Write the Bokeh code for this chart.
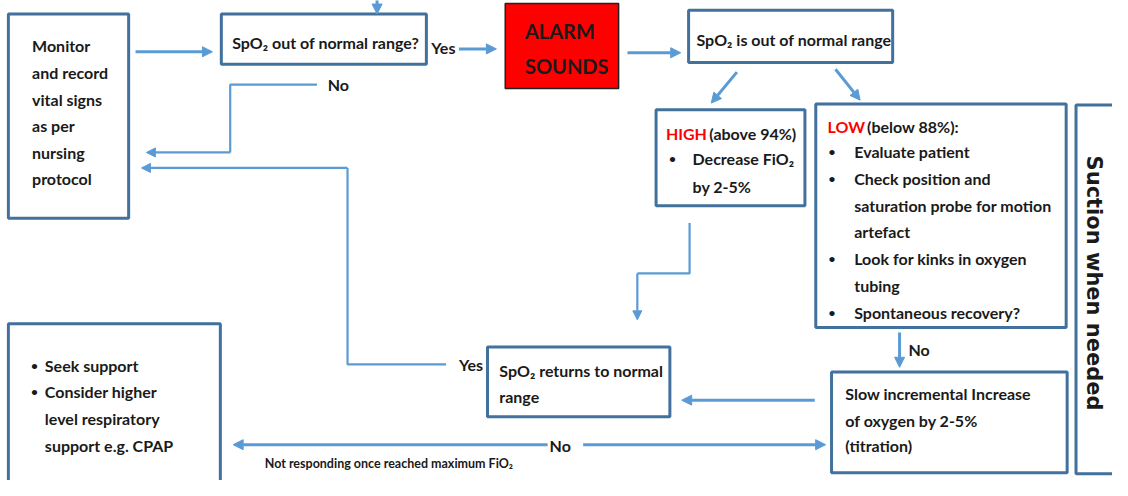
import math
from bokeh.plotting import figure
from bokeh.models import Range1d, Arrow, NormalHead, ColumnDataSource
from bokeh.core.properties import value
from bokeh.embed import file_html
from bokeh.resources import INLINE

FONT = "Lato"
BOX_COLOR = "#41719C"
ARROW_COLOR = "#5B9BD5"
TEXT_COLOR = "#1a1a1a"

# ---- boxes: (left, top, right, bottom) in picture coordinates
box_names = ["monitor", "question", "alarm", "outofrange", "high", "low", "suction", "returns", "slow", "support"]
box_left = [8, 224, 512, 698, 665, 827, 1091, 494, 843, 8]
box_top = [14, 14, 3, 10, 113, 107, 108, 358, 384, 334]
box_right = [130, 432, 627, 905, 816, 1081, 1150, 679, 1082, 223]
box_bottom = [225, 66, 91, 64, 212, 338, 489, 430, 488, 510]
box_fill = ["white", "white", "#FF0000", "white", "white", "white", "white", "white", "white", "white"]
box_line = [BOX_COLOR, BOX_COLOR, "#222222", BOX_COLOR, BOX_COLOR, BOX_COLOR, BOX_COLOR, BOX_COLOR, BOX_COLOR, BOX_COLOR]
box_lw = [3, 3, 1.5, 3, 3, 3, 3, 3, 3, 3]

# ---- text lines (bold, dark)
text_lines = [
    "Monitor", "and record", "vital signs", "as per", "nursing", "protocol",
    "SpO\u2082 out of normal range?", "Yes", "No",
    "SpO\u2082 is out of normal range",
    "(above 94%)", "Decrease FiO\u2082", "by 2-5%",
    "(below 88%):",
    "Evaluate patient", "Check position and", "saturation probe for motion", "artefact",
    "Look for kinks in oxygen", "tubing", "Spontaneous recovery?",
    "No",
    "Yes", "SpO\u2082 returns to normal", "range",
    "Slow incremental Increase", "of oxygen by 2-5%", "(titration)",
    "No",
    "Seek support", "Consider higher", "level respiratory", "support e.g. CPAP",
]
text_x = [
    32, 32, 32, 32, 32, 32,
    235, 437, 332,
    706,
    719, 702, 702,
    879,
    866, 866, 866, 866,
    866, 866, 866,
    921,
    465, 506, 506,
    857, 857, 857,
    557,
    45, 45, 45, 45,
]
text_y = [
    46, 74, 102, 129, 157, 184,
    43, 49, 87,
    40,
    137, 163, 192,
    130,
    156, 184, 212, 239,
    267, 295, 322,
    361,
    376, 382, 409,
    406, 434, 460,
    460,
    377, 404, 432, 460,
]

# ---- bullets
bullet_x = [678, 840, 840, 840, 840, 31, 31]
bullet_y = [163, 156, 184, 267, 322, 377, 404]

# ---- red words
red_words = ["HIGH", "LOW"]
red_x = [675, 839]
red_y = [137, 130]

# ---- ALARM
alarm_words = ["ALARM", "SOUNDS"]
alarm_x = [532, 532]
alarm_y = [32, 68]

# ---- small note
note_text = ["Not responding once reached maximum FiO\u2082"]
note_x = [268]
note_y = [478]

# ---- vertical label
side_text = ["Suction when needed"]
side_x = [1109]
side_y = [292]

# ---- straight arrows (start -> end)
arr_x0 = [382, 137, 465, 636, 747, 847, 912, 826, 555, 591]
arr_y0 = [-5, 53, 50, 54, 74, 71, 343, 413, 459, 459]
arr_x1 = [382, 215, 503, 690, 721, 872, 912, 691, 236, 837]
arr_y1 = [14, 53, 50, 54, 106, 103, 379, 413, 459, 459]

# ---- elbow connectors: polyline points, arrow on last segment
elbow_xs = [[321, 233, 233, 148], [452, 352, 352, 143], [699, 699, 646, 646]]
elbow_ys = [[87, 87, 157, 157], [376, 376, 173, 173], [230, 282, 282, 330]]

p = figure(width=1112, height=480, x_range=Range1d(0, 1128), y_range=Range1d(496, 0),
           output_backend="svg", toolbar_location=None, min_border=0,
           x_axis_location=None, y_axis_location=None)
p.grid.visible = False
p.outline_line_color = None
p.background_fill_color = "white"

p.quad(left=box_left, right=box_right, top=box_top, bottom=box_bottom,
       fill_color=box_fill, line_color=box_line, line_width=box_lw)

# elbow lines (all but the last segment) + arrow for last segment
p.multi_line(xs=[xs[:-1] for xs in elbow_xs], ys=[ys[:-1] for ys in elbow_ys],
             line_color=ARROW_COLOR, line_width=2.2)
el_src = ColumnDataSource(dict(x0=[xs[-2] for xs in elbow_xs], y0=[ys[-2] for ys in elbow_ys],
                               x1=[xs[-1] for xs in elbow_xs], y1=[ys[-1] for ys in elbow_ys]))
p.add_layout(Arrow(end=NormalHead(size=9, fill_color=ARROW_COLOR, line_color=ARROW_COLOR, line_width=1),
                   x_start="x0", y_start="y0", x_end="x1", y_end="y1", source=el_src,
                   line_color=ARROW_COLOR, line_width=2.2))

arr_src = ColumnDataSource(dict(x0=arr_x0, y0=arr_y0, x1=arr_x1, y1=arr_y1))
p.add_layout(Arrow(end=NormalHead(size=10, fill_color=ARROW_COLOR, line_color=ARROW_COLOR, line_width=1),
                   x_start="x0", y_start="y0", x_end="x1", y_end="y1", source=arr_src,
                   line_color=ARROW_COLOR, line_width=3))

p.text(x=text_x, y=text_y, text=text_lines, text_font=value(FONT), text_font_style="bold",
       text_font_size="16px", text_color=TEXT_COLOR, text_baseline="middle", text_align="left")
p.text(x=bullet_x, y=bullet_y, text=["\u2022"] * len(bullet_x), text_font=value(FONT),
       text_font_style="bold", text_font_size="12px", text_color=TEXT_COLOR,
       text_baseline="middle", text_align="left")
p.text(x=red_x, y=red_y, text=red_words, text_font=value(FONT), text_font_style="bold",
       text_font_size="16px", text_color="#FF0000", text_baseline="middle", text_align="left")
p.text(x=alarm_x, y=alarm_y, text=alarm_words, text_font=value(FONT), text_font_style="bold",
       text_font_size="20px", text_color=TEXT_COLOR, text_baseline="middle", text_align="left")
p.text(x=note_x, y=note_y, text=note_text, text_font=value(FONT), text_font_style="bold",
       text_font_size="12.5px", text_color=TEXT_COLOR, text_baseline="middle", text_align="left")
p.text(x=side_x, y=side_y, text=side_text, text_font=value("DejaVu Sans"), text_font_style="bold",
       text_font_size="21px", text_color=TEXT_COLOR, text_baseline="middle", text_align="center",
       angle=-math.pi / 2)

open("out.html", "w").write(file_html(p, INLINE))
